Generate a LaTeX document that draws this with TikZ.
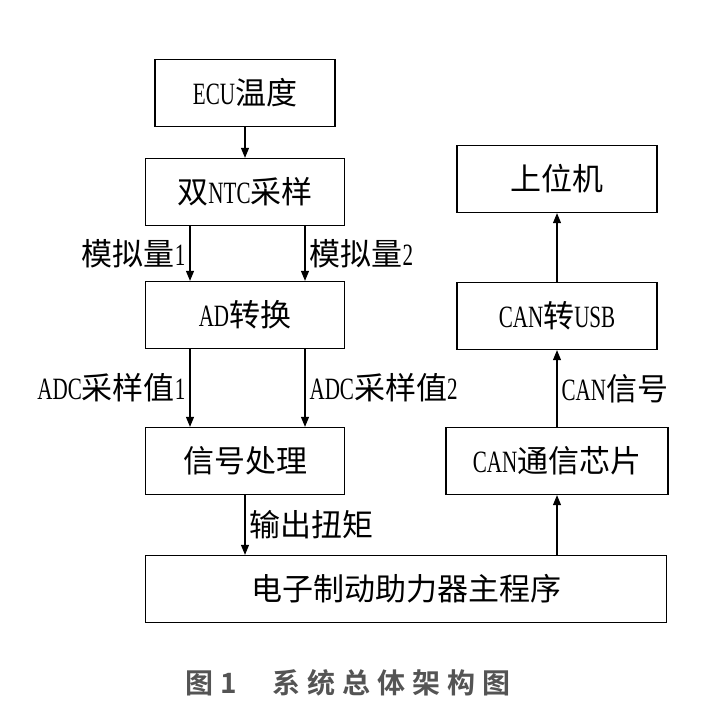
\documentclass[tikz,border=0pt]{standalone}
\usepackage{fontspec}
\setmainfont{Liberation Serif}[FakeStretch=0.68]
\newfontfamily\cjk{Noto Sans CJK SC}
\newfontfamily\cjkbf{Noto Sans CJK SC}[UprightFont=* Bold, LetterSpace=25]
\newcommand\zh[1]{{\cjk #1}}
\usetikzlibrary{arrows.meta}
\definecolor{capgray}{gray}{0.33}

\begin{document}
\begin{tikzpicture}[x=1pt,y=-1pt,
  box/.style={draw, line width=1.3pt, minimum width=#1, minimum height=67pt, inner sep=0pt, font=\fontsize{31}{31}\selectfont},
  box/.default=199pt,
  lbl/.style={font=\fontsize{31}{31}\selectfont, inner sep=4pt},
  flow/.style={black, line width=1.1pt, arrows={-Triangle[width=8pt,length=10pt,black,fill=black]}}]
\useasboundingbox (0,0) rectangle (725,720);
% left column
\node[box=180pt] (ecu) at (245,93) {ECU\zh{温度}};
\node[box] (ntc) at (245,192) {\zh{双}NTC\zh{采样}};
\node[box] (ad) at (245,315) {AD\zh{转换}};
\node[box] (sig) at (245,461) {\zh{信号处理}};
\node[box=521pt] (prog) at (406,589) {\zh{电子制动助力器主程序}};
% right column
\node[box=200pt] (pc) at (557,179) {\zh{上位机}};
\node[box=200pt] (usb) at (557,316) {CAN\zh{转}USB};
\node[box=222pt] (chip) at (557,461) {CAN\zh{通信芯片}};
\coordinate (c1) at (190,0);
\coordinate (c2) at (305,0);
\draw[flow] (ecu) -- (ntc);
\draw[flow] (ntc.south -| c1) -- node[lbl,left]{\zh{模拟量}1} (ad.north -| c1);
\draw[flow] (ntc.south -| c2) -- node[lbl,right]{\zh{模拟量}2} (ad.north -| c2);
\draw[flow] (ad.south -| c1) -- node[lbl,left]{ADC\zh{采样值}1} (sig.north -| c1);
\draw[flow] (ad.south -| c2) -- node[lbl,right]{ADC\zh{采样值}2} (sig.north -| c2);
\draw[flow] (sig.south) -- node[lbl,right]{\zh{输出扭矩}} (sig.south |- prog.north);
\draw[flow] (prog.north -| chip) -- (chip.south);
\draw[flow] (chip) -- node[lbl,right]{CAN\zh{信号}} (usb);
\draw[flow] (usb) -- (pc);
% caption
\node[font=\cjkbf\fontsize{28}{28}\selectfont, text=capgray] (cap) at (348,683) {图1\hspace{1.3em}系统总体架构图};
\end{tikzpicture}
\end{document}
